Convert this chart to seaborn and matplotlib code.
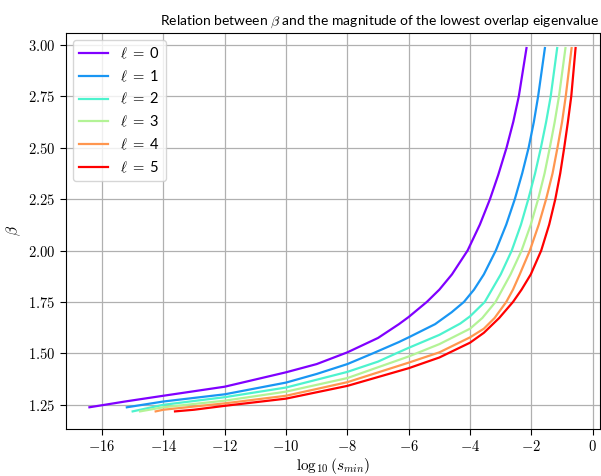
import numpy as np
import pandas as pd
import matplotlib
matplotlib.use('Agg')
import matplotlib.pyplot as plt
import seaborn as sns
from matplotlib.ticker import FuncFormatter

plt.rcParams['mathtext.fontset'] = 'cm'
plt.rcParams['font.family'] = ['Lato', 'DejaVu Sans']

# log10(s_min) and beta for each angular momentum l
x_l0 = [-16.41, -15.25, -14.0, -12.0, -10.0, -9.0, -8.0, -7.0, -6.32, -6.0, -5.41, -5.0, -4.59,
        -4.08, -3.68, -3.35, -3.08, -2.81, -2.59, -2.41, -2.16]
b_l0 = [1.238, 1.266, 1.294, 1.338, 1.408, 1.448, 1.505, 1.575, 1.642, 1.677, 1.75, 1.81, 1.884,
        2.0, 2.126, 2.25, 2.368, 2.5, 2.626, 2.75, 2.984]

x_l1 = [-15.19, -14.0, -12.0, -10.0, -9.0, -8.0, -7.17, -6.32, -6.0, -5.14, -4.6, -4.2, -3.87,
        -3.55, -3.16, -2.82, -2.54, -2.3, -2.09, -1.92, -1.78, -1.56]
b_l1 = [1.238, 1.266, 1.301, 1.358, 1.40, 1.448, 1.50, 1.555, 1.578, 1.642, 1.70, 1.75, 1.81,
        1.884, 2.0, 2.126, 2.25, 2.375, 2.5, 2.625, 2.75, 2.984]

x_l2 = [-15.0, -14.0, -12.0, -10.0, -8.0, -7.0, -6.41, -6.0, -5.0, -4.32, -4.0, -3.52, -3.0,
        -2.64, -2.34, -2.1, -1.88, -1.69, -1.52, -1.37, -1.16]
b_l2 = [1.218, 1.25, 1.287, 1.334, 1.41, 1.46, 1.50, 1.527, 1.59, 1.645, 1.68, 1.75, 1.884,
        2.0, 2.126, 2.25, 2.375, 2.5, 2.625, 2.75, 2.984]

x_l3 = [-14.76, -14.0, -12.0, -10.0, -8.0, -6.0, -5.0, -4.0, -3.6, -3.17, -2.68, -2.32, -2.02,
        -1.78, -1.57, -1.40, -1.24, -1.10, -0.89]
b_l3 = [1.218, 1.238, 1.27, 1.314, 1.38, 1.485, 1.545, 1.62, 1.672, 1.75, 1.884, 2.0, 2.126,
        2.25, 2.375, 2.5, 2.625, 2.75, 2.984]

x_l4 = [-14.25, -14.0, -12.0, -10.0, -8.0, -6.0, -5.0, -4.0, -3.55, -3.2, -2.82, -2.6, -2.38,
        -2.05, -1.76, -1.52, -1.31, -1.15, -1.0, -0.88, -0.69]
b_l4 = [1.218, 1.226, 1.257, 1.294, 1.36, 1.455, 1.505, 1.578, 1.62, 1.672, 1.75, 1.81, 1.884,
        2.0, 2.126, 2.25, 2.375, 2.5, 2.625, 2.75, 2.984]

x_l5 = [-13.62, -13.0, -12.0, -10.0, -8.0, -6.0, -5.0, -4.0, -3.55, -3.05, -2.6, -2.32, -2.02,
        -1.68, -1.42, -1.22, -1.06, -0.93, -0.81, -0.70, -0.56]
b_l5 = [1.218, 1.226, 1.245, 1.28, 1.342, 1.428, 1.48, 1.552, 1.60, 1.672, 1.75, 1.81, 1.884,
        2.0, 2.126, 2.25, 2.375, 2.5, 2.625, 2.75, 2.984]

ells = [0, 1, 2, 3, 4, 5]
curves = [(x_l0, b_l0), (x_l1, b_l1), (x_l2, b_l2), (x_l3, b_l3), (x_l4, b_l4), (x_l5, b_l5)]

colors = plt.cm.rainbow(np.linspace(0, 1, len(ells)))

fig, ax = plt.subplots(figsize=(6.01, 4.76), dpi=100)
fig.subplots_adjust(left=0.11, right=0.998, top=0.931, bottom=0.099)

for ell, (xs, bs), c in zip(ells, curves, colors):
    df = pd.DataFrame({'x': xs, 'beta': bs})
    sns.lineplot(data=df, x='x', y='beta', color=c, lw=1.6, label=r'$\ell\;=\;$%d' % ell,
                 ax=ax, solid_joinstyle='round')

ax.grid(True, color='#b0b0b0', lw=0.9)
ax.set_axisbelow(True)
ax.set_xticks(np.arange(-16, 1, 2))
ax.set_yticks(np.arange(1.25, 3.01, 0.25))
ax.xaxis.set_major_formatter(FuncFormatter(lambda v, p: r'$%d$' % round(v)))
ax.yaxis.set_major_formatter(FuncFormatter(lambda v, p: r'$%.2f$' % v))
ax.tick_params(labelsize=10.5, length=4)
ax.set_xlim(-17.17, 0.23)
ax.set_ylim(1.133, 3.058)

ax.set_xlabel(r'$\log_{10}(s_{min})$', fontsize=11, labelpad=1)
ax.set_ylabel(r'$\beta$', fontsize=11, rotation=90)
ax.set_title(r'Relation between $\beta$ and the magnitude of the lowest overlap eigenvalue',
             fontsize=10, x=0.587)
leg = ax.legend(loc='upper left', fontsize=10.5)

fig.savefig('out.png', dpi=100)
